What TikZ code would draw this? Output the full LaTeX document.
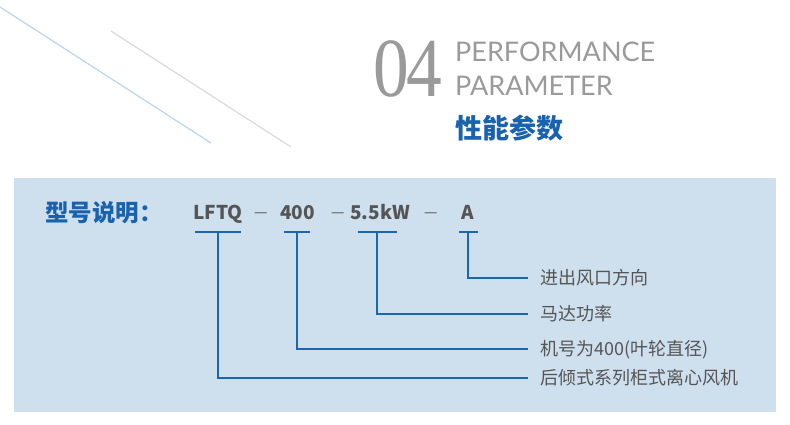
\documentclass[tikz,border=0pt]{standalone}
\usepackage{fontspec}
\newfontfamily\cjk{Noto Sans CJK SC}
\newfontfamily\serifnum{Liberation Serif}
\newfontfamily\latin{Lato}
\definecolor{bgblue}{HTML}{CEDFEE}
\definecolor{titleblue}{HTML}{1A62AE}
\definecolor{lineblue}{HTML}{1A66B0}
\definecolor{txtgray}{HTML}{555555}
\definecolor{headgray}{HTML}{9A9A9A}
\definecolor{diagblue}{HTML}{BBD5EC}
\definecolor{diaggray}{HTML}{DADADA}
\tikzset{
  conn/.style={draw=lineblue, line width=1.8pt},
  code/.style={anchor=base west, inner sep=0pt, text=txtgray, font=\cjk\bfseries\fontsize{19}{19}\selectfont},
  dashtxt/.style={anchor=base west, inner sep=0pt, text=txtgray, font=\cjk\fontsize{15}{15}\selectfont},
  lab/.style={anchor=west, inner xsep=12pt, inner ysep=0pt, text height=16pt, text depth=3pt, text=txtgray, font=\cjk\fontsize{18}{18}\selectfont},
}
\begin{document}
\begin{tikzpicture}[x=1pt, y=-1pt]
\useasboundingbox (0,0) rectangle (790,425);
% decorative diagonals
\draw[diagblue, line width=1.2pt] (0,7) -- (211,143);
\draw[diaggray, line width=1.2pt] (111,31) -- (291,147);
% heading
\node[anchor=base west, inner sep=0pt, text=headgray, font=\serifnum\fontsize{84}{84}\selectfont] (num) at (373,97) {\scalebox{0.85}[1]{0\kern-3pt4}};
\node[anchor=base west, inner sep=0pt, text=headgray, font=\latin\fontsize{27}{27}\selectfont] (perf) at (455,62) {PERFORMANCE};
\node[anchor=base west, inner sep=0pt, text=headgray, font=\latin\fontsize{27}{27}\selectfont] (param) at (455,96) {PARAMETER};
\node[text=titleblue, inner sep=0pt, font=\cjk\bfseries\fontsize{27}{27}\selectfont] (zh) at (509,128) {性能参数};
% panel
\fill[bgblue] (14,178) rectangle (776,412);
\node[anchor=base west, inner sep=0pt, text=titleblue, font=\cjk\bfseries\fontsize{23.5}{23.5}\selectfont] (xh) at (45,221) {型号说明：};
\node[code] (c1) at (193,219) {LFTQ};
\node[dashtxt] (d1) at (254,217) {—};
\node[code] (c2) at (280,219) {400};
\node[dashtxt] (d2) at (331,217) {—};
\node[code] (c3) at (350,219) {5.5kW};
\node[dashtxt] (d3) at (424,217) {—};
\node[code] (c4) at (461,219) {A};
% underlines
\coordinate (u1a) at (195,232); \coordinate (u1b) at (241,232); \coordinate (u1) at (218,232);
\coordinate (u2a) at (284,232); \coordinate (u2b) at (310,232); \coordinate (u2) at (297,232);
\coordinate (u3a) at (358,232); \coordinate (u3b) at (397,232); \coordinate (u3) at (377,232);
\coordinate (u4a) at (459,232); \coordinate (u4b) at (478,232); \coordinate (u4) at (468,232);
\draw[conn] (u1a) -- (u1b);
\draw[conn] (u2a) -- (u2b);
\draw[conn] (u3a) -- (u3b);
\draw[conn] (u4a) -- (u4b);
% labels
\node[lab] (l4) at (528,278) {进出风口方向};
\node[lab] (l3) at (528,314) {马达功率};
\node[lab] (l2) at (528,349) {机号为400(叶轮直径)};
\node[lab] (l1) at (528,378) {后倾式系列柜式离心风机};
% connectors
\draw[conn] (u4) |- (l4.west);
\draw[conn] (u3) |- (l3.west);
\draw[conn] (u2) |- (l2.west);
\draw[conn] (u1) |- (l1.west);
\end{tikzpicture}
\end{document}
